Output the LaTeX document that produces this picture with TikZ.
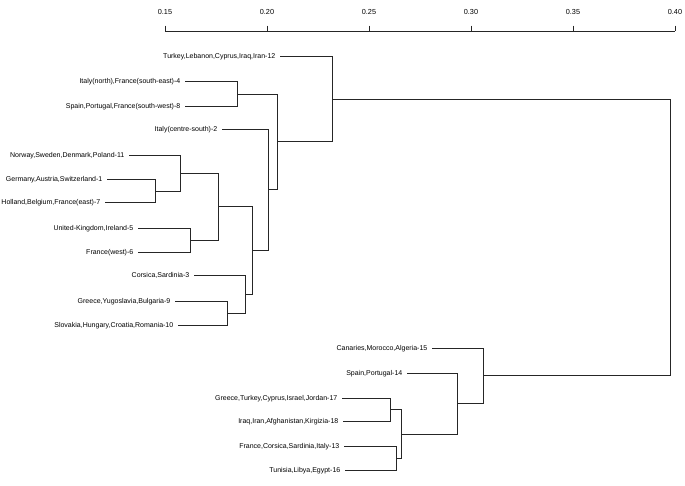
\documentclass[tikz,border=0pt]{standalone}
\usepackage{fontspec}
\setmainfont{Liberation Sans}

\begin{document}
\begin{tikzpicture}[x=1pt,y=-1pt]
\tikzset{
  leaf/.style={anchor=east,inner xsep=4.5pt,inner ysep=0pt,font=\fontsize{7}{8}\selectfont,text height=4.6pt,text depth=0.4pt},
  ticklabel/.style={inner sep=0pt,font=\fontsize{7.3}{8}\selectfont},
  branch/.style={draw=black!85,line width=0.8pt},
  axis/.style={draw=black!85,line width=0.8pt}
}
\useasboundingbox (0,0) rectangle (685,485);
% axis
\node[ticklabel] (t15) at (165,12) {0.15};
\node[ticklabel] (t20) at (267,12) {0.20};
\node[ticklabel] (t25) at (369,12) {0.25};
\node[ticklabel] (t30) at (471,12) {0.30};
\node[ticklabel] (t35) at (573,12) {0.35};
\node[ticklabel] (t40) at (675,12) {0.40};
\coordinate (a_l) at (165,31);
\coordinate (a_r) at (675,31);
\draw[axis] (a_l) -- (a_r);
\draw[axis] (165,25.5) -- (165,31);
\draw[axis] (267,25.5) -- (267,31);
\draw[axis] (369,25.5) -- (369,31);
\draw[axis] (471,25.5) -- (471,31);
\draw[axis] (573,25.5) -- (573,31);
\draw[axis] (675,25.5) -- (675,31);
% leaves
\node[leaf] (n_12) at (280,56.7) {Turkey,Lebanon,Cyprus,Iraq,Iran-12};
\node[leaf] (n_4) at (185,81.7) {Italy(north),France(south-east)-4};
\node[leaf] (n_8) at (185,106) {Spain,Portugal,France(south-west)-8};
\node[leaf] (n_2) at (222,129) {Italy(centre-south)-2};
\node[leaf] (n_11) at (129,155) {Norway,Sweden,Denmark,Poland-11};
\node[leaf] (n_1) at (107,179) {Germany,Austria,Switzerland-1};
\node[leaf] (n_7) at (105,202.7) {Holland,Belgium,France(east)-7};
\node[leaf] (n_5) at (138,228) {United-Kingdom,Ireland-5};
\node[leaf] (n_6) at (138,252.7) {France(west)-6};
\node[leaf] (n_3) at (194,275.7) {Corsica,Sardinia-3};
\node[leaf] (n_9) at (175,301.7) {Greece,Yugoslavia,Bulgaria-9};
\node[leaf] (n_10) at (178,325) {Slovakia,Hungary,Croatia,Romania-10};
\node[leaf] (n_15) at (432,348) {Canaries,Morocco,Algeria-15};
\node[leaf] (n_14) at (407,373) {Spain,Portugal-14};
\node[leaf] (n_17) at (342,398) {Greece,Turkey,Cyprus,Israel,Jordan-17};
\node[leaf] (n_18) at (343,421) {Iraq,Iran,Afghanistan,Kirgizia-18};
\node[leaf] (n_13) at (344,446.7) {France,Corsica,Sardinia,Italy-13};
\node[leaf] (n_16) at (345,470) {Tunisia,Libya,Egypt-16};
% joins
\coordinate (j_1_7) at (155,190.9);
\coordinate (j_11) at (180,173);
\coordinate (j_5_6) at (190,240.4);
\coordinate (j_north) at (218,206.7);
\coordinate (j_9_10) at (227,313.4);
\coordinate (j_3) at (245,294.5);
\coordinate (j_europe) at (252,250.6);
\coordinate (j_2) at (268,189.8);
\coordinate (j_4_8) at (237,93.9);
\coordinate (j_west) at (277,141.8);
\coordinate (j_12) at (332,99.3);
\coordinate (j_17_18) at (390,409.5);
\coordinate (j_13_16) at (396,458.4);
\coordinate (j_east) at (401,433.9);
\coordinate (j_14) at (457,403.5);
\coordinate (j_15) at (483,375.7);
\coordinate (j_root) at (670,237.5);
% branches
\draw[branch] (n_1.east) -| (j_1_7);
\draw[branch] (n_7.east) -| (j_1_7);
\draw[branch] (n_11.east) -| (j_11);
\draw[branch] (j_1_7) -| (j_11);
\draw[branch] (n_5.east) -| (j_5_6);
\draw[branch] (n_6.east) -| (j_5_6);
\draw[branch] (j_11) -| (j_north);
\draw[branch] (j_5_6) -| (j_north);
\draw[branch] (n_9.east) -| (j_9_10);
\draw[branch] (n_10.east) -| (j_9_10);
\draw[branch] (n_3.east) -| (j_3);
\draw[branch] (j_9_10) -| (j_3);
\draw[branch] (j_north) -| (j_europe);
\draw[branch] (j_3) -| (j_europe);
\draw[branch] (n_2.east) -| (j_2);
\draw[branch] (j_europe) -| (j_2);
\draw[branch] (n_4.east) -| (j_4_8);
\draw[branch] (n_8.east) -| (j_4_8);
\draw[branch] (j_4_8) -| (j_west);
\draw[branch] (j_2) -| (j_west);
\draw[branch] (n_12.east) -| (j_12);
\draw[branch] (j_west) -| (j_12);
\draw[branch] (n_17.east) -| (j_17_18);
\draw[branch] (n_18.east) -| (j_17_18);
\draw[branch] (n_13.east) -| (j_13_16);
\draw[branch] (n_16.east) -| (j_13_16);
\draw[branch] (j_17_18) -| (j_east);
\draw[branch] (j_13_16) -| (j_east);
\draw[branch] (n_14.east) -| (j_14);
\draw[branch] (j_east) -| (j_14);
\draw[branch] (n_15.east) -| (j_15);
\draw[branch] (j_14) -| (j_15);
\draw[branch] (j_12) -| (j_root);
\draw[branch] (j_15) -| (j_root);
\end{tikzpicture}
\end{document}
